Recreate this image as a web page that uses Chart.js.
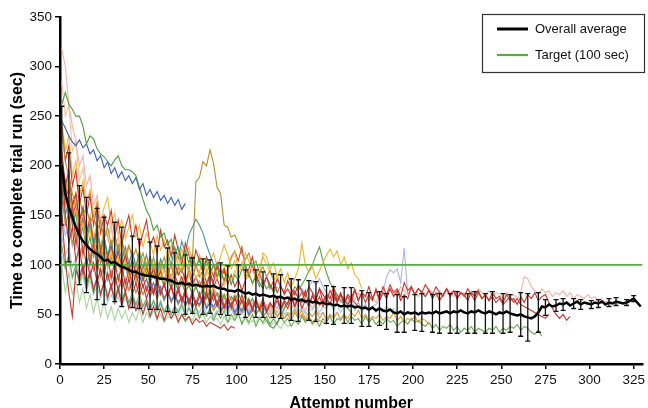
<!DOCTYPE html>
<html><head><meta charset="utf-8">
<script src="https://cdn.jsdelivr.net/npm/chart.js@4.4.1/dist/chart.umd.min.js"></script>
<style>
html,body{margin:0;padding:0;overflow:hidden;background:#fff;width:648px;height:408px}
#wrap{position:relative;width:648px;height:413px}
canvas{display:block}
</style></head>
<body><div id="wrap"><canvas id="c" width="648" height="413"></canvas></div>
<script>
// ---- data ----
const xTickValues = [0,25,50,75,100,125,150,175,200,225,250,275,300,325];
const yTickValues = [0,50,100,150,200,250,300,350];
const targetTime = 100;

// attempt numbers sampled every second attempt
const attempts = [1,3,5,7,9,11,13,15,17,19,21,23,25,27,29,31,33,35,37,39,41,43,45,47,49,51,53,55,57,59,61,63,65,67,69,71,73,75,77,79,81,83,85,87,89,91,93,95,97,99,101,103,105,107,109,111,113,115,117,119,121,123,125,127,129,131,133,135,137,139,141,143,145,147,149,151,153,155,157,159,161,163,165,167,169,171,173,175,177,179,181,183,185,187,189,191,193,195,197,199,201,203,205,207,209,211,213,215,217,219,221,223,225,227,229,231,233,235,237,239,241,243,245,247,249,251,253,255,257,259,261,263,265,267,269,271,273,275,277,279,281,283,285,287,289,291,293,295,297,299,301,303,305,307,309,311,313,315,317,319,321,323,325,327,329];

const overallAverage = [
200,172,158,148,138,130,124,120,116,113,
111,108,104,105,102,103,100,98,97,95,
93,93,91,90,89,89,88,87,86,86,
85,84,82,81,82,80,81,79,80,79,
78,79,78,79,77,76,76,74,74,73,
75,73,71,72,70,71,69,70,69,68,
69,67,68,66,67,65,66,64,65,63,
64,62,63,61,62,60,61,59,60,58,
59,58,59,57,58,56,57,55,57,54,
56,54,53,55,52,51,53,50,52,51,
52,50,52,51,52,51,53,51,52,53,
51,53,52,54,52,51,53,52,54,52,
51,53,52,50,52,51,53,51,50,49,
50,48,47,46,48,52,58,57,60,58,
59,61,60,62,59,61,63,60,62,61,
60,62,61,63,60,62,61,63,62,61,
62,64,66,62,58];

const errorAttempts = [1,5,11,15,21,25,31,35,41,45,51,55,61,65,71,75,81,85,91,95,101,105,111,115,121,125,131,135,141,145,151,155,161,165,171,175,181,185,191,195,201,205,211,215,221,225,231,235,241,245,251,255,261,265,271,275,281,285,291,295,301,305,311,315,321,325];
const errorSD = [60,55,50,48,46,44,40,40,36,35,34,32,32,30,30,28,28,27,26,25,25,24,24,23,22,22,21,21,20,20,19,19,18,18,18,17,17,18,19,18,18,19,19,20,20,21,20,21,20,21,20,19,22,24,20,8,6,6,5,5,4,4,4,4,3,3];

const greenUpper = [262,274,262,257,250,250,240,222,230,227,217,212,209,204,200,206,210,200,196,196,194,190,178,166,155,148,135,140,128,132,120,126,112,118,106,114,102,110,98,106,95,104,92,100,88,96,84,92,80,90,85,95,100,90,82,88,78,84,76,80,72,78];
const blueUpper = [245,238,230,224,220,226,218,222,212,216,205,210,198,204,192,198,188,194,185,190,182,188,176,182,170,176,168,174,165,170,162,168,160,166,156,162];
const darkGoldSpike = [235,205,188,172,160,168,150,158,142,150,135,144,126,138,120,130,116,126,110,120,106,116,102,112,98,108,94,104,96,108,92,100,88,98,92,102,96,104,184,188,204,200,216,202,178,172,140,138,128,130,122,112,105,112,98,104,92,98,88,94,86];
const goldBright = [182,160,172,146,156,132,142,122,136,112,126,106,118,96,112,92,106,88,102,86,98,82,96,86,102,90,106,88,98,82,96,86,102,112,96,106,88,98,86,94,80,96,88,102,86,96,80,92,106,114,96,102,86,94,80,92,86,112,108,96,102,88,96,82,92,78,86,96,122,100,92,98,86,94,102,110,116,108,114,100,108,96,102,90,86,76];
const redLong = [205,150,122,138,104,118,92,108,88,102,82,96,78,92,76,90,74,88,72,86,70,82,68,80,66,78,70,86,72,80,
68,78,64,74,62,72,60,70,58,68,62,74,60,70,58,66,56,64,58,68,56,64,54,62,56,66,54,62,52,60,
58,68,56,64,60,72,58,66,62,74,60,68,64,76,62,70,66,78,64,72,62,70,66,76,64,72,68,78,66,74,
64,72,66,76,68,74,64,70,66,78,70,76,72,68,74,66,72,64,70,76,68,74,66,72,70,64,72,68,74,66,
70,64,72,66,68,62,70,64,66,60,68,62,70,66,72,64,68,70,62,56,50,46,50,44,48];
const redSecond = [170,185,140,160,120,145,110,130,100,122,96,115,90,110,86,104,84,100,80,96,78,92,76,88,74,86,72,84,70,82,
68,80,66,78,64,76,62,74,60,72,58,70,62,74,60,72,58,68,56,66,58,70,56,66,54,64,56,66,54,62,
56,64,54,62,56,66,58,68,56,64,58,70,60,68,58,66,60,72,62,70,60,68,62,74,64,72,62,70,64,76,
66,78,70,80,72,76,68,82,74,78,70,76,72,80,74,70,78,72,68,76,70,74,66,72,68,76,70,64,72,66,
70,64,68,62,66,60,64,68,62,66,60,58,56,54,52,50,48,46,50];
const pinkLong = [318,300,262,240,225,200,210,180,190,160,170,145,150,130,140,120,128,110,118,100,112,96,106,92,100,88,96,84,92,80,
88,78,84,74,82,72,80,70,78,68,76,66,74,64,72,62,70,60,68,58,66,56,64,58,66,56,62,54,60,52,
58,52,60,54,62,56,64,58,60,54,62,56,64,58,66,60,68,62,70,64,68,62,70,64,72,66,70,64,68,62,
70,74,68,76,72,70,78,74,70,76,72,68,74,70,76,72,68,74,70,76,72,68,74,70,72,68,74,70,76,72,
70,74,68,72,70,66,72,68,70,66,72,88,86,78,74,70,76,72,74,68,72,70,74,68,72,66,70,68,66,70,
66,68,64,66,62,64,62,60];
const greenLow = [120,98,110,88,100,82,94,76,90,72,86,70,82,68,80,66,78,64,74,62,72,60,70,58,66,56,64,54,62,52,
60,50,58,52,60,48,56,50,58,46,54,48,56,44,52,46,54,42,50,44,52,40,48,42,50,38,46,42,48,40,
46,40,48,42,46,38,44,40,48,42,46,40,44,38,46,42,48,40,46,44,50,42,48,44,46,40,48,42,46,40,
44,40,46,42,44,38,42,44,40,46,42,44,40,38,42,36,40,34,38,36,40,34,38,32,36,34,38,32,36,34,
32,36,34,38,32,36,34,38,36,40,34,38,36,32,30,34,28];
const lightBlue = [150,130,140,118,126,108,116,100,110,96,104,90,98,86,94,82,90,78,86,76,84,72,80,70,78,68,76,66,74,64,
72,62,70,60,68,58,66,56,64,60,70,58,66,56,64,58,68,56,62,54,60,52,58,54,62,56,60,52,58,54,
60,56,64,58,62,66,72,68,76,70,78,84,80,86,78,72,68,64,70,62,66,60,64,58,62,56,60,54,58,60,
64,72,88,95,92,96,82,117,70];
const lightCyan = [110,95,102,86,94,80,88,74,84,70,78,66,74,62,70,60,68,58,66,56,64,54,62,52,60,50,58,52,60,50,
58,50,56,48,56,52,58,50,56,48,54,50,56,48,54,52,58,50,56,48,54,50,56,52,58,50,56,48,54,50,
56,52,58,50,56,54,60,52,58,50,56,54,60,52,58,56,62,54,60,52,58,56,62,54,58,52,56,54,58,52,
56,52,58,54,56,52];
const orangeGold = [200,170,185,150,172,140,158,132,150,125,142,118,136,128,115,130,110,124,104,118,112,98,114,104,92,108,100,88,104,95,
90,100,86,96,82,92,78,88,76,84,72,80,70,78,68,74,66,72,64,70,62,66,60,64,58,62,56,60,54,58,
56,48,54,46,52,50,56,48,54,46,52,48,54,46,52,44,50,46,52,44,50,46,52,48,54,46,50,44,48,46,
50,44,48,46,52,44,48,42,46,44,48,42,46,44,40];
const tealShort = [175,150,165,140,155,130,145,125,140,120,134,115,128,110,124,106,120,104,118,100,114,98,112,96,110,94,108,92,106,96,112,100,118,106,124,112,130,138,146,140,132,120,110,100,92];
const redShort = [150,105,72,48,95,86,100,80,94,74,88,70,84,66,80,62,76,60,72,56,68,54,64,50,62,48,58,46,56,44,54,46,52,42,50,44,48,40,46,42,44,38,42,40,38,36,40,34,38,36];
const lightGreen = [100,72,92,70,84,62,76,56,70,52,66,48,62,46,58,44,56,46,54,42,52,44,56,42,52,46,54,44,50,42,48,46,52,44,50,42,48,44,52,46,50,42,48,44,46,40,48,42,46,44,50,42,46,40,44,42,48,40,44,38,42,40,36,42,38,40];
const blueSecond = [210,180,190,160,170,145,155,130,140,118,128,108,118,100,110,94,104,90,98,86,94,82,90,78,86,74,82,70,78,66,74,64,70,62,68,60,66,58,64,60,68,56,62,58,64,54,60,56,62,52,58,54,60,50,56,52];
const redHigh = [240,205,220,180,195,160,178,150,170,140,160,132,150,140,155,128,145,120,138,150,125,140,118,132,145,120,128,112,135,118,125,108,130,115,100,122,110,96,115,104,92,108,98,88,102,90,96,85];
const goldHigh = [245,215,230,190,205,170,185,160,175,150,165,142,158,168,140,152,130,145,126,138,150,128,140,118,132,124,110,130,115,125,105,120,112,98,116,104,94,110,100,92,106,96,88,100,92,86,98,90,84,94,88];
const peach = [285,250,262,215,225,185,198,165,175,150,160,138,146,128,136,118,126,110,118,104,112,98,106,94,102,90,98,86,94,82,90,78,86,76,84,74,82,72,80,70];
const greenMid = [190,160,172,140,152,125,138,115,128,108,120,102,114,98,108,94,104,90,100,88,96,86,94,84,92,82,90,80,88,78,86,76,84,74,82,72,80,70,78,68,76,66,74,64,72,62,70,60,68,64,72,62,70,60,66,58,56,48,44,38,36,42,48,56,62,70,78,74,80,86,94,100,110,118,104,92,82,76,70,64,60,56,52];
const redMid = [215,180,195,160,172,145,158,132,146,122,136,114,128,108,120,102,114,98,110,94,106,90,102,88,98,86,96,84,94,82,98,86,102,90,96,84,92,80,88,78,86,76,92,82,98,86,94,80,90,78,86,74,84,96,108,90,82,76,88,80,74,86,78,72,84,76,70,80,74,68,78,72,66,76,70,64,74,68,62,70,64,60,66,62,58,56];
const darkGoldLow = [170,140,152,122,134,110,120,100,112,94,104,88,98,84,94,80,90,76,86,74,82,72,80,70,78,68,76,66,74,64,72,62,70,60,68,58,66,56,64,58,66,56,62,54,60,52,58,54,60,50,56,52,58,48,54,50,56,48,52,46,54,48,52,46,50,44,52,46,50,44,48,42,46,44,42,40];
const lightBlueLow = [130,110,118,98,106,90,98,84,92,78,86,72,80,68,76,64,72,62,70,60,68,58,66,56,64,54,62,56,64,54,60,52,58,54,62,52,58,50,56,52,60,50,56,48,54,52,58,50,56,48,54,50,56,52,58,50,54,48,52,50,56,48,54,50,52,48,54,50,56,52,50,48,54,50,52,46,50,48,52,46,50];
const redPeaky = [195,165,178,150,160,138,148,128,138,120,130,114,124,108,118,104,112,100,108,96,104,92,100,90,98,88,96,86,94,84,92,82,90,80,88,78,96,86,100,88,94,82,90,78,86,76,84,96,108,114,104,118,96,88,100,84,92,80,88,76,84,72,80,70,76,68,74,66,72,64];
const goldPeaky = [210,175,190,155,168,140,152,128,140,118,130,110,122,104,116,98,110,94,106,90,102,88,98,86,96,84,94,82,100,92,106,96,112,100,94,108,118,104,96,110,100,90,104,112,98,108,120,110,96,104,90,100,112,104,94,88,98,108,100,92,84,90,80];

// ---- participants: [values, colour], front-most first ----
const participantLines = [
  [redLong,'#c8312b'],[redSecond,'#cf3b31'],[darkGoldSpike,'#b58f2e'],[greenUpper,'#4d9d3d'],
  [blueUpper,'#3b5cbe'],[goldBright,'#ebb42b'],[redShort,'#c43a2e'],[redHigh,'#cc3a30'],
  [goldHigh,'#efbd3c'],[tealShort,'#3f9b98'],[redMid,'#c9352f'],[goldPeaky,'#e9b63a'],
  [redPeaky,'#d2443a'],[greenMid,'#5aa24a'],[blueSecond,'#4f6cc6'],[orangeGold,'#e0a034'],
  [darkGoldLow,'#b8923a'],[greenLow,'#6aaa55'],[pinkLong,'#f1b4a6'],[peach,'#f2c49c'],
  [lightBlue,'#a8b6e6'],[lightBlueLow,'#b3c0ea'],[lightCyan,'#a7d6d7'],[lightGreen,'#a9d3a0']
];

const X_MIN = 0, X_MAX = 330;
const FONT = '"Liberation Sans", Arial, Helvetica, sans-serif';

const datasets = [
  {label:'Overall average', data: overallAverage, borderColor:'#000', backgroundColor:'#000', borderWidth:2.5, legendWidth:3},
  {label:'Target (100 sec)', data:[{x:X_MIN,y:targetTime},{x:X_MAX,y:targetTime}], borderColor:'#5aaa45', backgroundColor:'#5aaa45', borderWidth:1.8, legendWidth:2.2}
];
participantLines.forEach(([vals,col],i)=>{
  datasets.push({label:'p'+i, data: vals, borderColor: col, borderWidth:1.1, isParticipant:true});
});

const errorBarPlugin = {
  id:'errorBars',
  afterDatasetsDraw(chart){
    const {ctx, chartArea:a, scales:{x,y}} = chart;
    ctx.save();
    ctx.beginPath(); ctx.rect(a.left,a.top,a.right-a.left,a.bottom-a.top); ctx.clip();
    ctx.strokeStyle='#111'; ctx.lineWidth=1.3;
    ctx.beginPath();
    errorAttempts.forEach((att,i)=>{
      const m = overallAverage[attempts.indexOf(att)];
      const px = x.getPixelForValue(att);
      const t = y.getPixelForValue(m+errorSD[i]);
      const b = y.getPixelForValue(Math.max(m-errorSD[i],0));
      ctx.moveTo(px,t); ctx.lineTo(px,b);
      ctx.moveTo(px-2.5,t); ctx.lineTo(px+2.5,t);
      ctx.moveTo(px-2.5,b); ctx.lineTo(px+2.5,b);
    });
    ctx.stroke();
    ctx.restore();
  }
};

const boxLegendPlugin = {
  id:'boxLegend',
  afterDraw(chart){
    const ctx = chart.ctx;
    const items = chart.data.datasets.filter(d=>!d.isParticipant);
    const bx=482.5, by=14.5, bw=162, bh=58;
    ctx.save();
    ctx.fillStyle='#fff'; ctx.fillRect(bx,by,bw,bh);
    ctx.strokeStyle='#333'; ctx.lineWidth=1.2; ctx.strokeRect(bx,by,bw,bh);
    ctx.font='13px '+FONT; ctx.textBaseline='middle'; ctx.fillStyle='#111';
    items.forEach((d,i)=>{
      const yy = 29 + i*26;
      ctx.strokeStyle=d.borderColor; ctx.lineWidth=d.legendWidth;
      ctx.beginPath(); ctx.moveTo(497,yy); ctx.lineTo(528,yy); ctx.stroke();
      ctx.fillText(d.label,535,yy);
    });
    ctx.restore();
  }
};

new Chart(document.getElementById('c'), {
  type:'line',
  data:{labels: attempts, datasets},
  plugins:[errorBarPlugin, boxLegendPlugin],
  options:{
    responsive:false, animation:false, devicePixelRatio:1,
    layout:{padding:{top:17,right:4,left:0,bottom:0}},
    elements:{point:{radius:0,hoverRadius:0}, line:{tension:0, fill:false}},
    plugins:{legend:{display:false}, tooltip:{enabled:false}},
    scales:{
      x:{type:'linear', min:X_MIN, max:X_MAX,
        afterBuildTicks:s=>{s.ticks = xTickValues.map(v=>({value:v}));},
        afterFit:s=>{s.height=49;},
        ticks:{font:{family:FONT,size:13.5}, color:'#111', padding:3, maxRotation:0, autoSkip:false},
        grid:{drawOnChartArea:false, drawTicks:true, tickLength:5, color:'#000', lineWidth:1.5},
        border:{display:true, color:'#000', width:2.5},
        title:{display:true, text:'Attempt number', color:'#000', font:{family:FONT,size:16,weight:'bold'}, padding:{top:0,bottom:0}}
      },
      y:{type:'linear', min:0, max:350,
        afterBuildTicks:s=>{s.ticks = yTickValues.map(v=>({value:v}));},
        afterFit:s=>{s.width=60;},
        ticks:{font:{family:FONT,size:13.5}, color:'#111', padding:3, autoSkip:false},
        grid:{drawOnChartArea:false, drawTicks:true, tickLength:5, color:'#000', lineWidth:1.5},
        border:{display:true, color:'#000', width:2.5},
        title:{display:true, text:'Time to complete trial run (sec)', color:'#000', font:{family:FONT,size:16,weight:'bold'}, padding:{top:8,bottom:0}}
      }
    }
  }
});
</script>
</body></html>
